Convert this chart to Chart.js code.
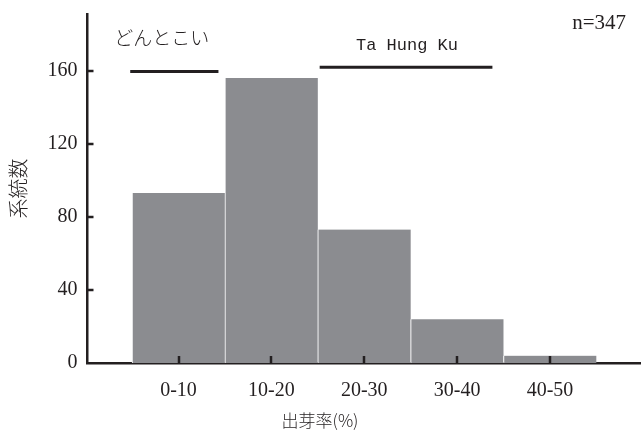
<!DOCTYPE html>
<html>
<head>
<meta charset="utf-8">
<script src="https://cdn.jsdelivr.net/npm/chart.js@4.4.1/dist/chart.umd.min.js"></script>
<style>
  html, body { margin: 0; padding: 0; background: #fff; }
  #wrap { width: 641px; height: 432px; }
</style>
</head>
<body>
<div id="wrap"><canvas id="chart"></canvas></div>
<script>
//Chart data
const categories = ["0-10", "10-20", "20-30", "30-40", "40-50"];
const counts = [93, 156, 73, 24, 4];
const yTicks = [0, 40, 80, 120, 160];
//Variety brackets (x in category units, y in counts)
const groupNames = ["どんとこい", "Ta Hung Ku"];
const groupStart = [-0.52, 1.52];
const groupEnd = [0.43, 3.38];
const groupLevel = [159.5, 161.8];
const sampleSize = "n=347";
const xTitle = "出芽率(%)";
const yTitle = "系統数";

const ink = "#231f20";
const serif = "'Liberation Serif', 'Noto Sans CJK JP', serif";
const cjk = "'Noto Sans CJK JP', sans-serif";

//Inward tick marks and annotation texts
const extras = {
  id: "extras",
  afterDatasetsDraw(chart) {
    const ctx = chart.ctx;
    const x = chart.scales.x;
    const y = chart.scales.y;
    const area = chart.chartArea;
    ctx.save();
    ctx.strokeStyle = ink;
    ctx.lineWidth = 2.5;
    categories.forEach((c, i) => {
      const px = Math.round(x.getPixelForValue(i));
      ctx.beginPath();
      ctx.moveTo(px, area.bottom);
      ctx.lineTo(px, area.bottom - 7);
      ctx.stroke();
    });
    yTicks.forEach((v) => {
      if (v === 0) return;
      const py = Math.round(y.getPixelForValue(v));
      ctx.beginPath();
      ctx.moveTo(area.left, py);
      ctx.lineTo(area.left + 6, py);
      ctx.stroke();
    });

    ctx.fillStyle = ink;
    ctx.textAlign = "center";
    ctx.textBaseline = "middle";
    ctx.font = "300 19px " + cjk;
    ctx.fillText(groupNames[0], x.getPixelForValue(-0.18), y.getPixelForValue(178));
    ctx.font = "17px 'Liberation Mono', monospace";
    ctx.fillText(groupNames[1], x.getPixelForValue(2.46), y.getPixelForValue(174));
    ctx.textAlign = "right";
    ctx.font = "21px " + serif;
    ctx.fillText(sampleSize, area.right - 15, y.getPixelForValue(186));
    ctx.textAlign = "center";
    ctx.font = "300 17px " + cjk;
    ctx.fillText(xTitle, 320, 421);
    ctx.restore();
  },
};

const bracketSets = groupNames.map((name, i) => ({
  type: "line",
  label: name,
  data: [
    { x: groupStart[i], y: groupLevel[i] },
    { x: groupEnd[i], y: groupLevel[i] },
  ],
  borderColor: ink,
  borderWidth: 3,
  pointRadius: 0,
  fill: false,
}));

new Chart(document.getElementById("chart").getContext("2d"), {
  type: "bar",
  data: {
    datasets: [
      {
        label: "系統数",
        data: counts.map((v, i) => ({ x: i, y: v })),
        backgroundColor: "#8b8c90",
        borderColor: "#ffffff",
        borderWidth: { left: 1 },
        borderSkipped: false,
        categoryPercentage: 1.0,
        barPercentage: 1.0,
      },
      ...bracketSets,
    ],
  },
  options: {
    responsive: true,
    maintainAspectRatio: false,
    animation: false,
    layout: { padding: { top: 14, right: 0, left: 0, bottom: 0 } },
    plugins: {
      legend: { display: false },
      tooltip: { enabled: false },
    },
    scales: {
      x: {
        type: "linear",
        offset: false,
        min: -0.98,
        max: 4.98,
        grid: { display: false, drawTicks: false, offset: false },
        border: { display: true, color: ink, width: 2.5 },
        afterBuildTicks: (scale) => {
          scale.ticks = categories.map((c, i) => ({ value: i }));
        },
        afterFit: (scale) => {
          scale.height = 69;
          scale.paddingLeft = 0;
          scale.paddingRight = 0;
        },
        ticks: {
          autoSkip: false,
          maxRotation: 0,
          padding: 16,
          color: ink,
          font: { family: serif, size: 20 },
          callback: (v) => categories[v] ?? "",
        },
      },
      y: {
        min: 0,
        max: 191,
        grid: { display: false, drawTicks: false },
        border: { display: true, color: ink, width: 2.5 },
        afterBuildTicks: (scale) => {
          scale.ticks = yTicks.map((v) => ({ value: v }));
        },
        afterFit: (scale) => {
          scale.width = 87.5;
          scale.paddingTop = 0;
          scale.paddingBottom = 0;
        },
        ticks: {
          padding: 10,
          color: ink,
          font: { family: serif, size: 20 },
        },
        title: {
          display: true,
          text: yTitle,
          color: ink,
          font: { family: cjk, size: 20, weight: 300 },
          padding: { top: 6, bottom: 0 },
        },
      },
    },
  },
  plugins: [extras],
});
</script>
</body>
</html>
